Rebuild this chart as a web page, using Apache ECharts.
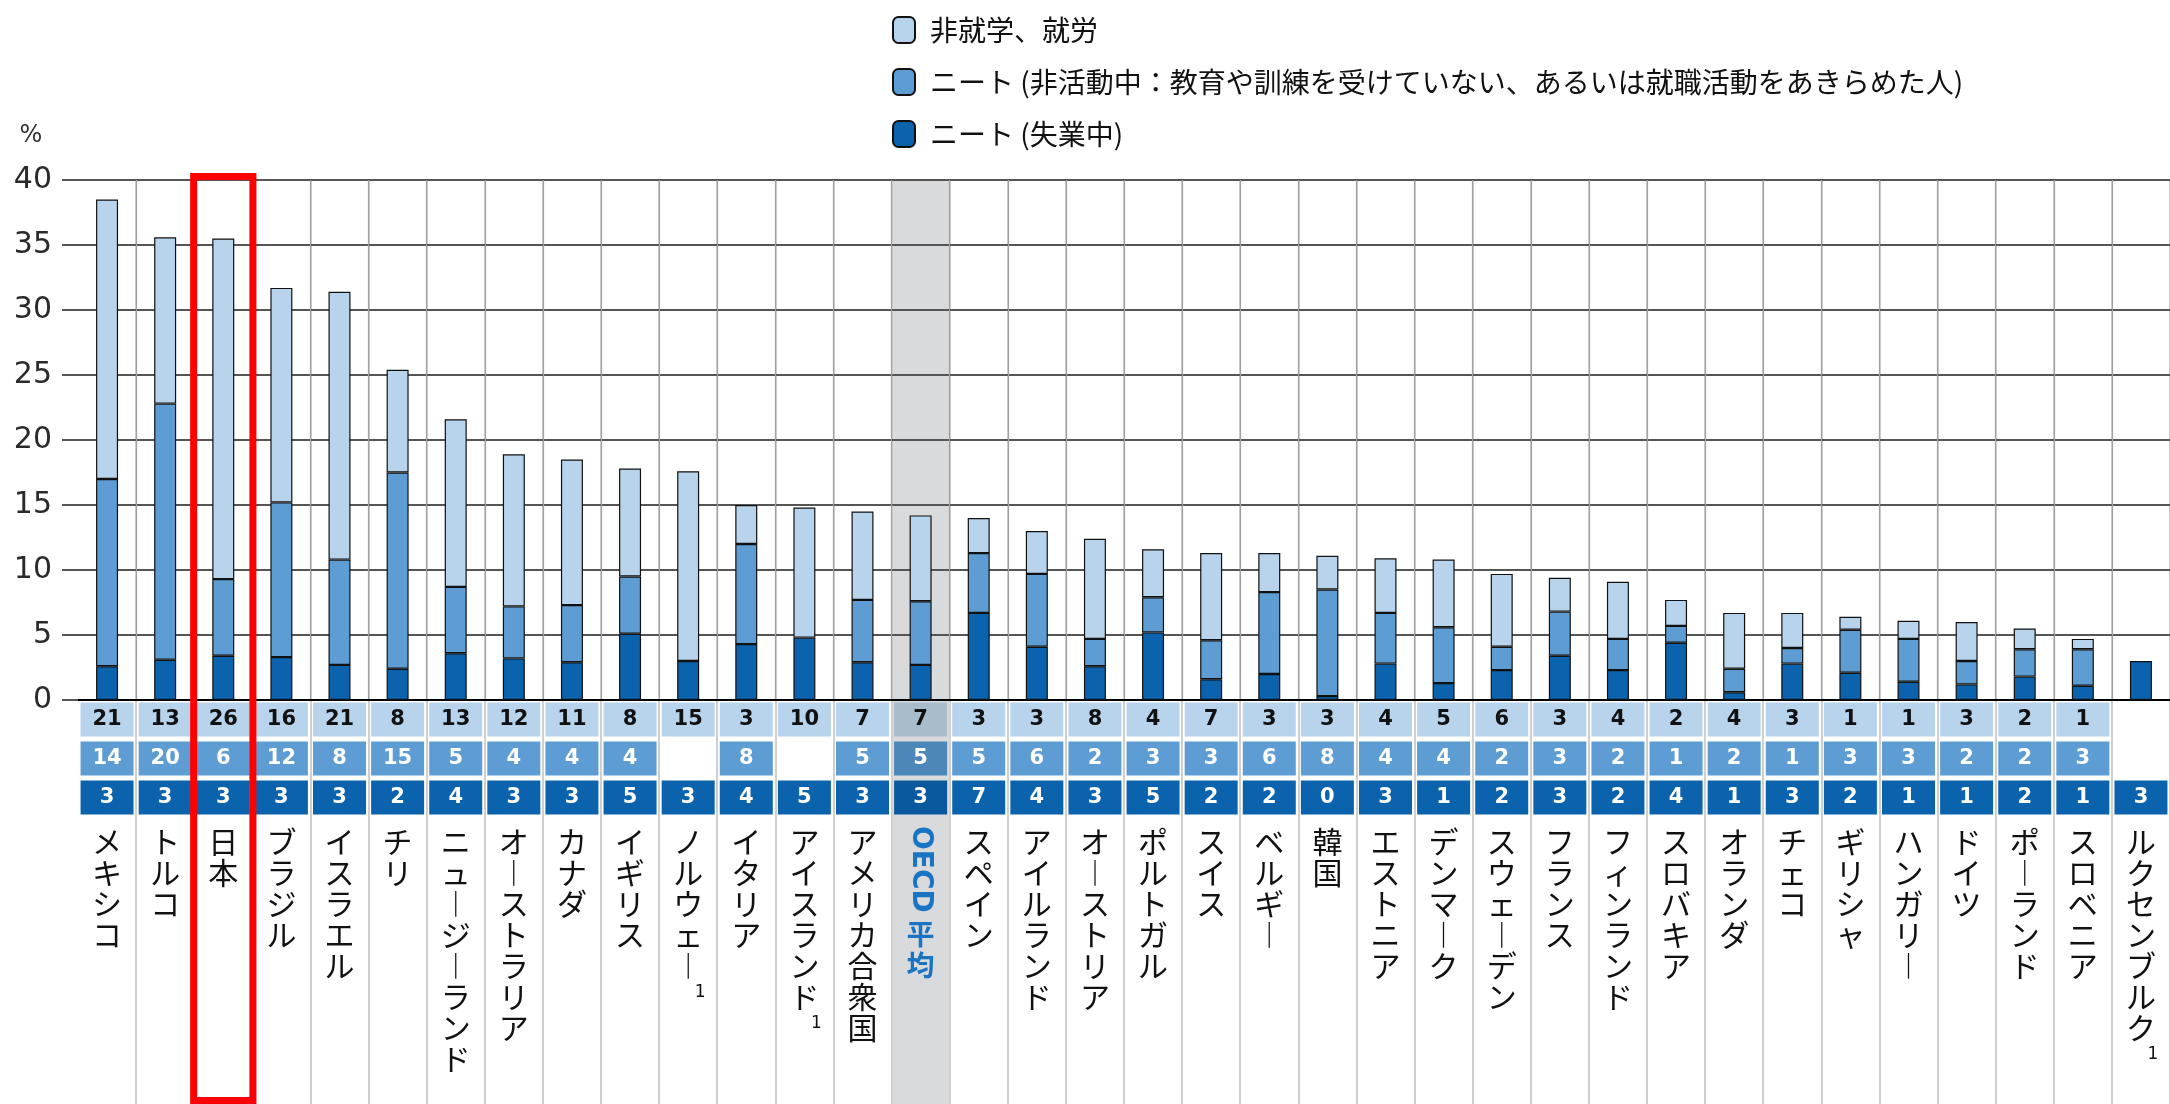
<!DOCTYPE html>
<html><head><meta charset="utf-8">
<script src="https://cdn.jsdelivr.net/npm/echarts@6/dist/echarts.min.js"></script>
<style>html,body{margin:0;padding:0;background:#fff}#c{width:2170px;height:1104px}</style>
</head><body><div id="c"></div>
<script>
// ---- data ----
const categories = ['メキシコ','トルコ','日本','ブラジル','イスラエル','チリ','ニュージーランド','オーストラリア','カナダ','イギリス','ノルウェー','イタリア','アイスランド','アメリカ合衆国','OECD平均','スペイン','アイルランド','オーストリア','ポルトガル','スイス','ベルギー','韓国','エストニア','デンマーク','スウェーデン','フランス','フィンランド','スロバキア','オランダ','チェコ','ギリシャ','ハンガリー','ドイツ','ポーランド','スロベニア','ルクセンブルク'];
const footnotes = ['','','','','','','','','','','1','','1','','','','','','','','','','','','','','','','','','','','','','','1'];
const seriesNames = ['非就学、就労','ニート (非活動中：教育や訓練を受けていない、あるいは就職活動をあきらめた人)','ニート (失業中)'];
// % of 15-29 year olds not in education
const working    = [21.5,12.8,26.2,16.5,20.6,7.9,12.9,11.7,11.2,8.3,14.6,3.0,10.0,6.8,6.6,2.7,3.3,7.7,3.7,6.7,3.0,2.6,4.2,5.2,5.6,2.6,4.4,2.0,4.3,2.7,1.0,1.4,3.0,1.6,0.8,null];
const inactive   = [14.4,19.7,5.9,11.9,8.1,15.1,5.1,4.0,4.4,4.4,null,7.7,null,4.8,4.9,4.6,5.6,2.1,2.7,3.0,6.3,8.2,3.9,4.3,1.8,3.4,2.4,1.3,1.8,1.2,3.3,3.3,1.8,2.1,2.8,null];
const unemployed = [2.6,3.1,3.4,3.3,2.7,2.4,3.6,3.2,2.9,5.1,3.0,4.3,4.8,2.9,2.7,6.7,4.1,2.6,5.2,1.6,2.0,0.3,2.8,1.3,2.3,3.4,2.3,4.4,0.6,2.8,2.1,1.4,1.2,1.8,1.1,3.0];
// table rows (rounded values printed under the bars)
const tableWorking    = [21,13,26,16,21,8,13,12,11,8,15,3,10,7,7,3,3,8,4,7,3,3,4,5,6,3,4,2,4,3,1,1,3,2,1,null];
const tableInactive   = [14,20,6,12,8,15,5,4,4,4,null,8,null,5,5,5,6,2,3,3,6,8,4,4,2,3,2,1,2,1,3,3,2,2,3,null];
const tableUnemployed = [3,3,3,3,3,2,4,3,3,5,3,4,5,3,3,7,4,3,5,2,2,0,3,1,2,3,2,4,1,3,2,1,1,2,1,3];
const yMin = 0, yMax = 40, yStep = 5;
const highlightCategory = '日本';
const averageCategory = 'OECD平均';

// ---- styles ----
const C_LIGHT = '#b7d4ec', C_MED = '#5e9dd3', C_DARK = '#0b63ae';
const C_LIGHT_AVG = '#a9bccc', C_MED_AVG = '#4d87b9', C_DARK_AVG = '#0a589d';
const JP = '"Noto Sans CJK JP", sans-serif';
const L = 78;
// vertical-writing presentation form for the long vowel mark
const VERTICAL_FORMS = {'ー': '\uFE31'};

const chart = echarts.init(document.getElementById('c'), null, {renderer: 'canvas'});

function tableSeries(name, vals, y, color, avgColor, textColor) {
  const data = [];
  vals.forEach((v, i) => {
    if (v == null) return;
    const item = {value: [i, y, v]};
    if (categories[i] === averageCategory) item.itemStyle = {color: avgColor};
    data.push(item);
  });
  return {
    name: name, type: 'scatter', xAxisIndex: 1, yAxisIndex: 1, symbol: 'rect', symbolSize: [53, 34],
    itemStyle: {color: color, opacity: 1}, z: 3, silent: true,
    label: {show: true, position: 'inside', formatter: p => String(p.value[2]),
      color: textColor, fontSize: 21, fontWeight: 'bold', fontFamily: 'DejaVu Sans'},
    data: data
  };
}

function vertLabel(v, i) {
  if (v === averageCategory) {
    const rest = v.replace(/^[A-Za-z]+/, '');
    return '{n|　}\n{n|　}\n{n|　}\n' + Array.from(rest).map(c => '{o|' + c + '}').join('\n');
  }
  let s = Array.from(v).map(c => '{n|' + (VERTICAL_FORMS[c] || c) + '}').join('\n');
  if (footnotes[i]) s += '\n{s|' + footnotes[i] + '}';
  return s;
}

const bandFlag = name => categories.map(c => c === name ? 1 : null);

const hidden = {show: false};
const option = {
  animation: false,
  backgroundColor: '#fff',
  legend: {
    data: seriesNames, orient: 'vertical', left: 887, top: 11,
    itemWidth: 22, itemHeight: 26, itemGap: 24, selectedMode: false,
    textStyle: {fontSize: 28, lineHeight: 28, fontFamily: JP, color: '#111', padding: [0, 0, 0, 10]}
  },
  grid: [
    {left: L, right: 0, top: 180, height: 520, outerBoundsMode: 'none'},
    {left: L, right: 0, top: 700, height: 117, outerBoundsMode: 'none'},
    {left: L, right: 0, top: 180, bottom: 0, outerBoundsMode: 'none'},
    {left: L, right: 0, top: 173, bottom: 0, outerBoundsMode: 'none'},
    {left: L, right: 0, top: 817, bottom: 0, outerBoundsMode: 'none'}
  ],
  xAxis: [
    {gridIndex: 0, type: 'category', data: categories,
      axisLine: {show: true, lineStyle: {color: '#000', width: 2}}, axisTick: hidden, axisLabel: hidden,
      splitLine: {show: true, interval: (i) => i > 0, lineStyle: {color: '#a0a0a0', width: 1.2}}, z: 1},
    {gridIndex: 1, type: 'category', data: categories, position: 'bottom',
      axisLine: hidden, axisTick: hidden, splitLine: hidden,
      axisLabel: {show: true, interval: 0, margin: 9, formatter: vertLabel, align: 'center', verticalAlign: 'top',
        rich: {
          n: {fontSize: 30, lineHeight: 31, fontFamily: JP, color: '#111'},
          o: {fontSize: 28, lineHeight: 31, fontFamily: JP, fontWeight: 'bold', color: '#1a74c4'},
          s: {fontSize: 17, lineHeight: 24, fontFamily: 'DejaVu Sans', color: '#111', padding: [0, 0, 0, 24]}
        }}},
    {gridIndex: 2, type: 'category', data: categories,
      axisLine: hidden, axisTick: hidden, axisLabel: hidden,
      splitLine: {show: true, interval: (i) => i > 0, lineStyle: {color: '#cfcfcf', width: 2}}, z: 0},
    {gridIndex: 3, type: 'category', data: categories, show: false},
    {gridIndex: 4, type: 'category', data: categories, position: 'top',
      axisLine: hidden, axisTick: hidden, splitLine: hidden,
      axisLabel: {show: true, interval: 0, inside: true, rotate: -90, margin: 9,
        formatter: v => v === averageCategory ? v.match(/^[A-Za-z]+/)[0] : '',
        fontSize: 28, fontWeight: 'bold', fontFamily: 'DejaVu Sans', color: '#1a74c4'}}
  ],
  yAxis: [
    {gridIndex: 0, type: 'value', min: yMin, max: yMax, interval: yStep,
      name: '%', nameLocation: 'end', nameGap: 32,
      nameTextStyle: {fontSize: 24, color: '#333', fontFamily: 'DejaVu Sans', padding: [0, 94, 0, 0]},
      axisLine: hidden,
      axisTick: {show: true, length: 16, lineStyle: {color: '#555', width: 2}},
      axisLabel: {margin: 26, fontSize: 30, color: '#2a2a2a', fontFamily: 'DejaVu Sans'},
      splitLine: {show: true, lineStyle: {color: '#555', width: 2}}, z: 1},
    {gridIndex: 1, type: 'value', min: 0, max: 3, show: false},
    {gridIndex: 2, type: 'value', min: 0, max: 1, show: false},
    {gridIndex: 3, type: 'value', min: 0, max: 1, show: false},
    {gridIndex: 4, type: 'value', min: 0, max: 1, show: false}
  ],
  series: [
    {name: seriesNames[2], type: 'bar', stack: 'neet', data: unemployed, barWidth: 22,
      itemStyle: {color: C_DARK, borderColor: '#111', borderWidth: 1.2}, z: 4},
    {name: seriesNames[1], type: 'bar', stack: 'neet', data: inactive, barWidth: 22,
      itemStyle: {color: C_MED, borderColor: '#111', borderWidth: 1.2}, z: 4},
    {name: seriesNames[0], type: 'bar', stack: 'neet', data: working, barWidth: 22,
      itemStyle: {color: C_LIGHT, borderColor: '#111', borderWidth: 1.2}, z: 4},
    tableSeries('row1', tableWorking, 2.5, C_LIGHT, C_LIGHT_AVG, '#111'),
    tableSeries('row2', tableInactive, 1.5, C_MED, C_MED_AVG, '#fff'),
    tableSeries('row3', tableUnemployed, 0.5, C_DARK, C_DARK_AVG, '#fff'),
    {name: 'avgBand', type: 'bar', xAxisIndex: 2, yAxisIndex: 2, data: bandFlag(averageCategory),
      barWidth: '100%', itemStyle: {color: '#d9dadb'}, z: -1, silent: true},
    {name: 'highlight', type: 'bar', xAxisIndex: 3, yAxisIndex: 3, data: bandFlag(highlightCategory),
      barWidth: '114%', clip: false, silent: true,
      itemStyle: {color: 'rgba(0,0,0,0)', borderColor: '#ff0000', borderWidth: 7}, z: 10}
  ]
};
chart.setOption(option);
</script>
</body></html>
